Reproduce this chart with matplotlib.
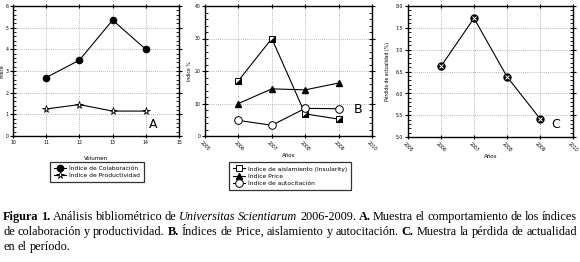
import matplotlib
matplotlib.use("Agg")
import matplotlib.pyplot as plt
from matplotlib.ticker import MultipleLocator, FuncFormatter
import numpy as np

# ---- data ----
volumen = [11, 12, 13, 14]
colaboracion = [2.7, 3.5, 5.35, 4.0]
productividad = [1.25, 1.45, 1.15, 1.15]

anios = [2006, 2007, 2008, 2009]
aislamiento = [17.0, 30.0, 6.8, 5.2]
price = [10.0, 14.5, 14.2, 16.3]
autocitacion = [4.8, 3.3, 8.5, 8.4]

perdida = [6.62, 7.72, 6.38, 5.42]

W, H = 580, 262
fig = plt.figure(figsize=(W / 100, H / 100), dpi=100)
fig.patch.set_facecolor("white")

def rect(l, r, t, b):
    return [l / W, 1 - b / H, (r - l) / W, (b - t) / H]

TICKFS = 3.3

def style_axes(ax, xmaj, ymaj, ymin):
    ax.xaxis.set_major_locator(MultipleLocator(xmaj))
    ax.yaxis.set_major_locator(MultipleLocator(ymaj))
    ax.yaxis.set_minor_locator(MultipleLocator(ymin))
    ax.tick_params(axis="y", which="major", direction="inout", length=4, width=0.8,
                   left=True, right=True, labelsize=TICKFS, pad=1.5)
    ax.tick_params(axis="y", which="minor", direction="in", length=2, width=0.6,
                   left=True, right=True)
    ax.tick_params(axis="x", which="major", direction="inout", length=3, width=0.8,
                   top=True, bottom=True, labelsize=TICKFS, pad=1.5)
    ax.grid(True, which="major", color="#a0a0a0", linestyle=(0, (1, 1.5)), linewidth=0.6)
    for s in ax.spines.values():
        s.set_linewidth(1.0)

# ---- Panel A ----
axA = fig.add_axes(rect(13, 179, 6, 136))
axA.plot(volumen, colaboracion, color="black", lw=0.8, marker="o", ms=4.5,
         mfc="black", mec="black", label="Índice de Colaboración")
axA.plot(volumen, productividad, color="black", lw=0.8, marker="*", ms=5.5,
         mfc="white", mec="black", mew=0.6, label="Índice de Productividad")
axA.set_xlim(10, 15)
axA.set_ylim(0, 6)
style_axes(axA, 1, 1, 0.2)
axA.set_xlabel("Volumen", fontsize=4, labelpad=8)
axA.set_ylabel("Indice", fontsize=3.3)
axA.yaxis.set_label_coords(-0.05, 0.5)
axA.text(153 / W, 1 - 124 / H, "A", transform=fig.transFigure, fontsize=9,
         ha="center", va="center")
legA = axA.legend(loc="upper left", bbox_to_anchor=(50 / W, 1 - 162 / H),
                  bbox_transform=fig.transFigure, fontsize=4.3, frameon=True,
                  fancybox=False, edgecolor="black", borderaxespad=0,
                  handlelength=2.0, borderpad=0.6, labelspacing=0.35, handletextpad=0.6)
legA.get_frame().set_linewidth(0.9)

# ---- Panel B ----
axB = fig.add_axes(rect(205, 372, 6, 136))
half_tri = [(-1, -1), (1, -1), (1, 1), (-1, -1)]
lB1, = axB.plot(anios, aislamiento, color="black", lw=0.8, marker="s", ms=4.5,
                mfc="white", mec="black", mew=0.7)
axB.plot(anios, aislamiento, linestyle="none", marker=half_tri, ms=4.5,
         mfc="black", mec="black", mew=0.4)
lB2, = axB.plot(anios, price, color="black", lw=0.8, marker="^", ms=4.5,
                mfc="black", mec="black")
lB3, = axB.plot(anios, autocitacion, color="black", lw=0.8, marker="o", ms=5.5,
                mfc="white", mec="black", mew=0.7)
axB.set_xlim(2005, 2010)
axB.set_ylim(0, 40)
style_axes(axB, 1, 10, 2)
axB.xaxis.set_major_formatter(FuncFormatter(lambda v, p: f"{int(round(v))}"))
for lab in axB.get_xticklabels():
    lab.set_rotation(-45)
    lab.set_ha("center")
axB.set_xlabel("Años", fontsize=4, labelpad=1)
axB.set_ylabel("Indice %", fontsize=3.3)
axB.yaxis.set_label_coords(-0.075, 0.5)
axB.text(358 / W, 1 - 110 / H, "B", transform=fig.transFigure, fontsize=9,
         ha="center", va="center")
legB = axB.legend([lB1, lB2, lB3],
                  ["Índice de aislamiento (Insularity)", "Índice Price",
                   "Índice de autocitación"],
                  loc="upper left", bbox_to_anchor=(229 / W, 1 - 162 / H),
                  bbox_transform=fig.transFigure, fontsize=4.3, frameon=True,
                  fancybox=False, edgecolor="black", borderaxespad=0,
                  handlelength=2.0, borderpad=0.6, labelspacing=0.35, handletextpad=0.6)
legB.get_frame().set_linewidth(0.9)

# ---- Panel C ----
axC = fig.add_axes(rect(408, 573, 6, 137))
axC.plot(anios, perdida, color="black", lw=0.8, marker="o", ms=5,
         mfc="black", mec="black")
axC.plot(anios, perdida, linestyle="none", marker="x", ms=3, mec="white", mew=0.7)
axC.set_xlim(2005, 2010)
axC.set_ylim(5.0, 8.0)
style_axes(axC, 1, 0.5, 0.1)
axC.xaxis.set_major_formatter(FuncFormatter(lambda v, p: f"{int(round(v))}"))
axC.yaxis.set_major_formatter(FuncFormatter(lambda v, p: f"{v:.1f}".replace(".", ",")))
for lab in axC.get_xticklabels():
    lab.set_rotation(-45)
    lab.set_ha("center")
axC.set_xlabel("Años", fontsize=4, labelpad=1)
axC.set_ylabel("Pérdida de actualidad (%)", fontsize=3.3)
axC.yaxis.set_label_coords(-0.11, 0.5)
axC.text(556 / W, 1 - 124 / H, "C", transform=fig.transFigure, fontsize=9,
         ha="center", va="center")

# ---- Caption (justified, mixed styles) ----
CAPFS = 8.8
FAM = "Liberation Serif"
lines = [
    ([("Figura 1.", "bold"), (" Análisis bibliométrico de ", "normal"),
      ("Universitas Scientiarum", "italic"), (" 2006-2009. ", "normal"),
      ("A.", "bold"), (" Muestra el comportamiento de los índices", "normal")], True, 217),
    ([("de colaboración y productividad. ", "normal"), ("B.", "bold"),
      (" Índices de Price, aislamiento y autocitación. ", "normal"), ("C.", "bold"),
      (" Muestra la pérdida de actualidad", "normal")], True, 232),
    ([("en el período.", "normal")], False, 247),
]

renderer = fig.canvas.get_renderer()

def make_text(x, y, s, st, fs):
    kw = dict(fontsize=fs, family=FAM, va="center", ha="left",
              transform=fig.transFigure)
    if st == "bold":
        kw["fontweight"] = "bold"
    elif st == "italic":
        kw["fontstyle"] = "italic"
    return fig.text(x, y, s, **kw)

x0, x1 = 3, 577
for segs, justify, ypx in lines:
    words = []
    for s, st in segs:
        for w in s.split(" "):
            if w:
                words.append((w, st))
    y = 1 - ypx / H
    fs = CAPFS
    while True:
        texts = [make_text(0, y, w, st, fs) for w, st in words]
        widths = [t.get_window_extent(renderer).width for t in texts]
        ta = make_text(0, y, "a b", "normal", fs)
        tb = make_text(0, y, "ab", "normal", fs)
        sp = ta.get_window_extent(renderer).width - tb.get_window_extent(renderer).width
        ta.remove()
        tb.remove()
        if justify and sum(widths) + sp * 0.7 * (len(words) - 1) > (x1 - x0) and fs > 6:
            for t in texts:
                t.remove()
            fs -= 0.1
            continue
        break
    if justify and len(words) > 1:
        gap = (x1 - x0 - sum(widths)) / (len(words) - 1)
    else:
        gap = sp
    x = x0
    for t, wdt in zip(texts, widths):
        t.set_x(x / W)
        x += wdt + gap

fig.savefig("out.png", dpi=100, facecolor="white")
